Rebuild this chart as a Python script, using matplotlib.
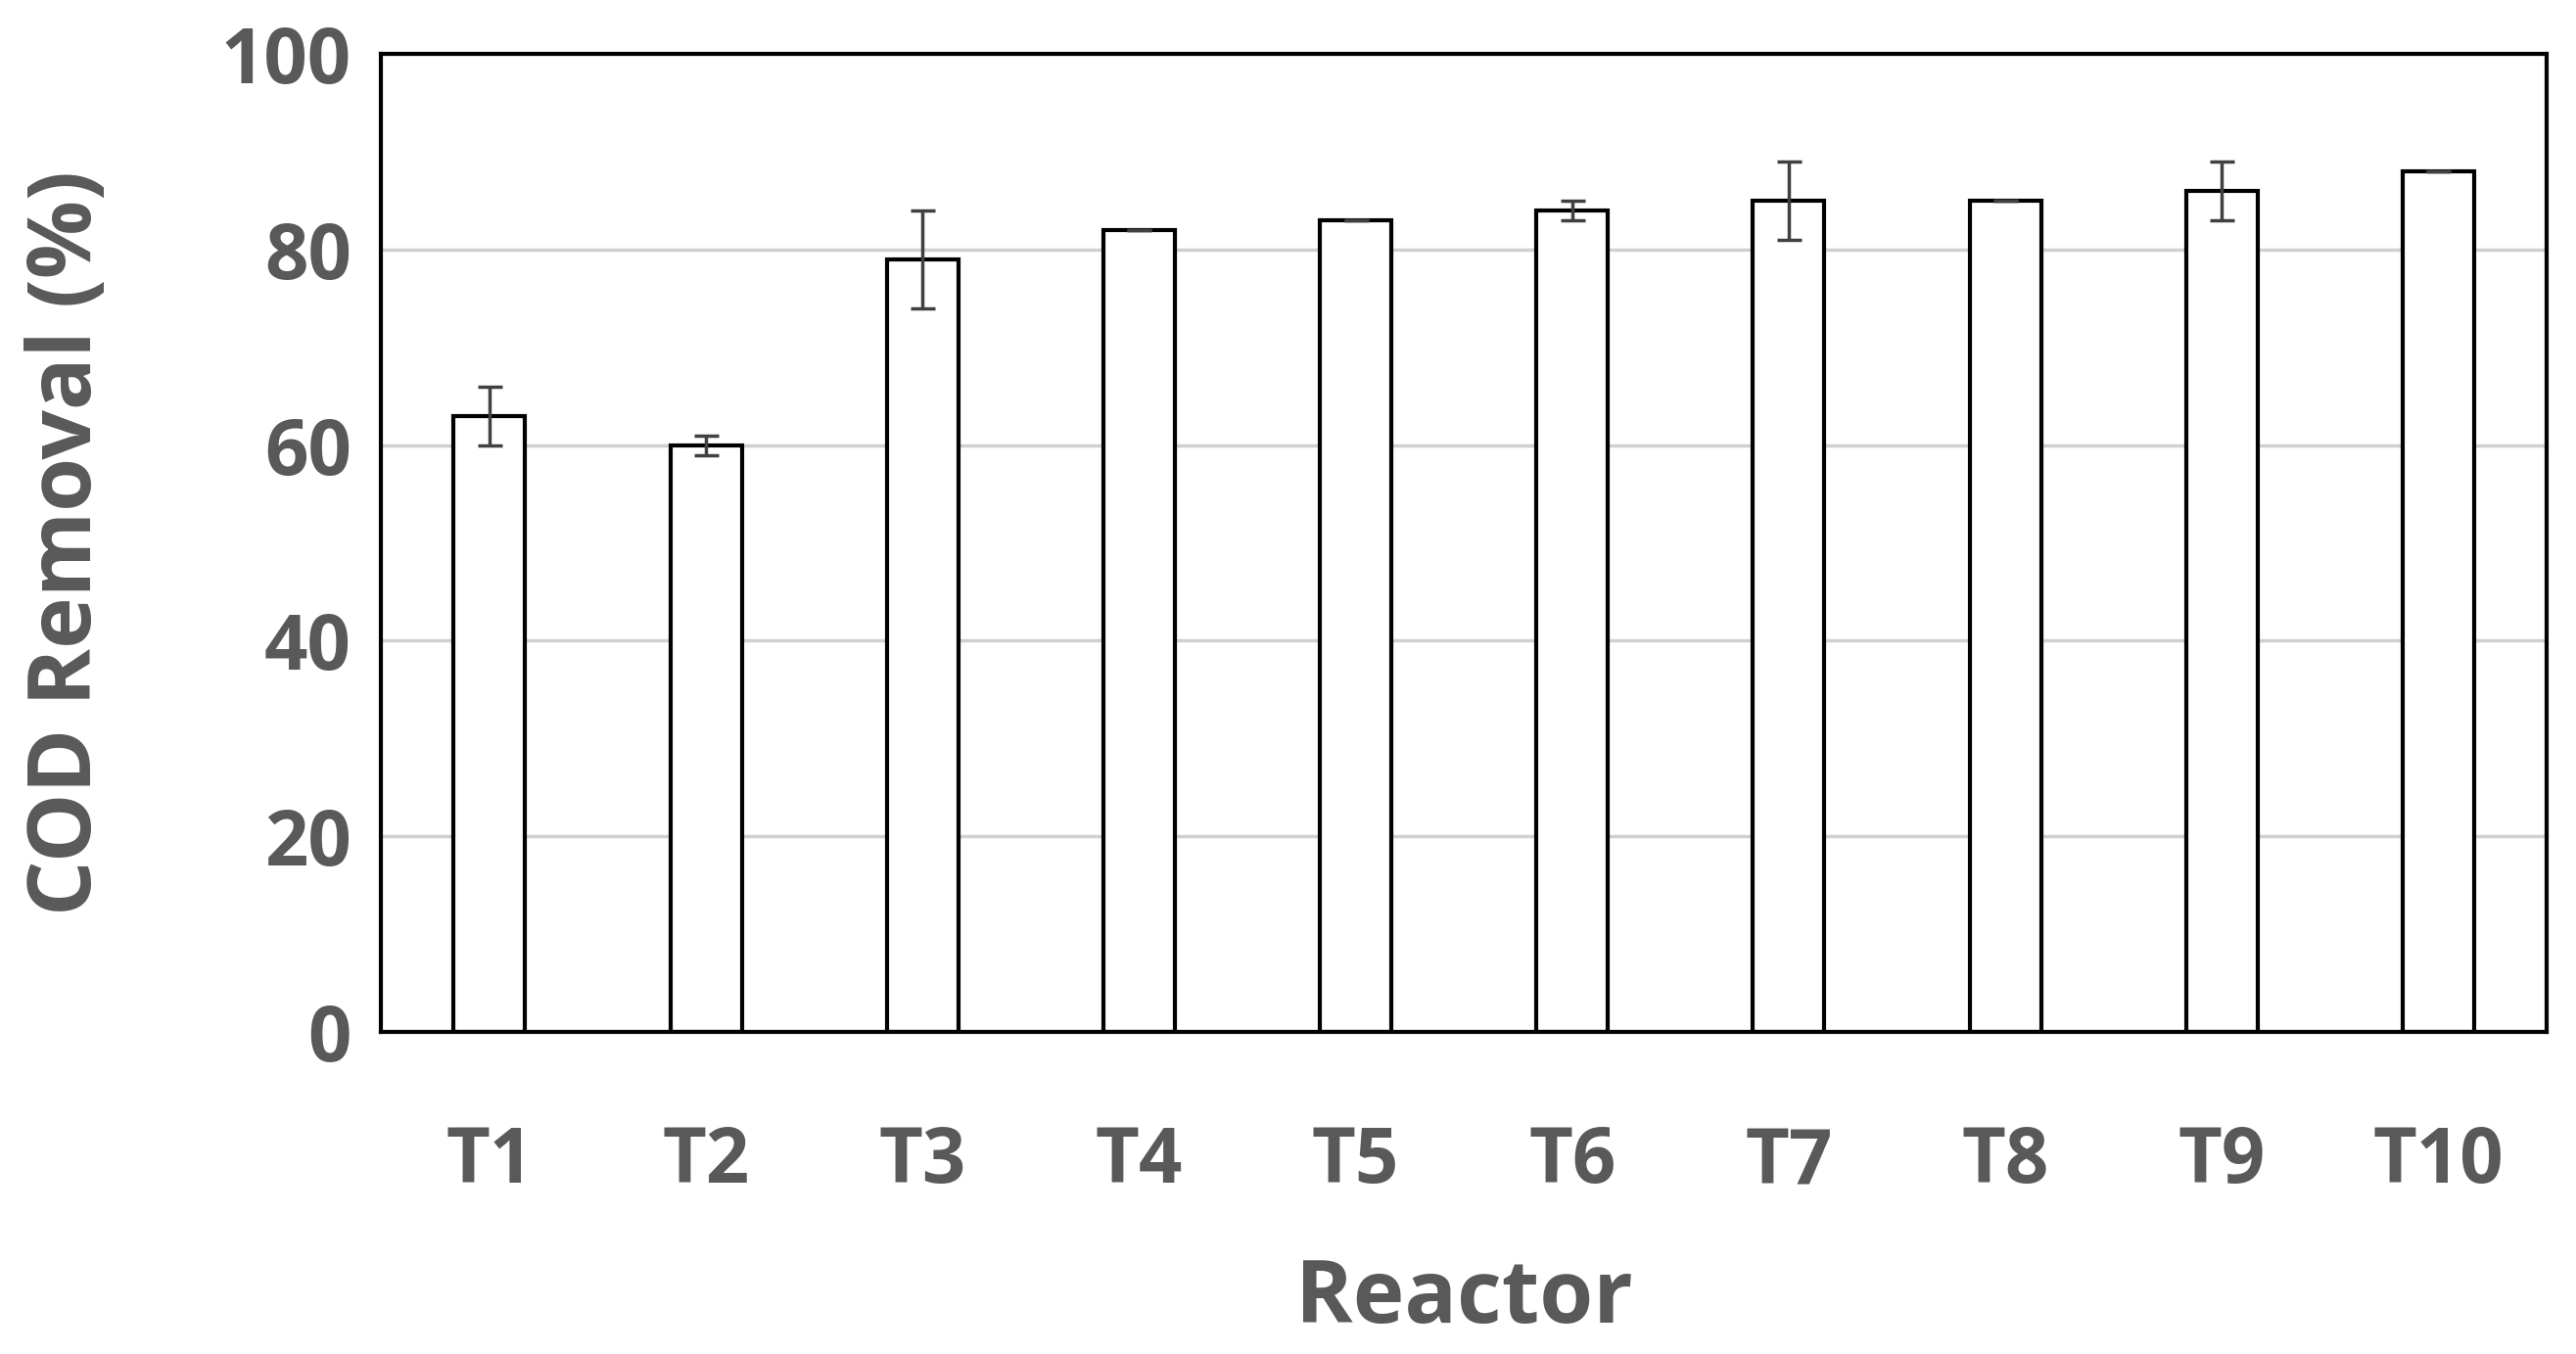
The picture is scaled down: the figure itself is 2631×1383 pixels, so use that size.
import matplotlib
matplotlib.use("Agg")
import matplotlib.pyplot as plt

categories = ["T1", "T2", "T3", "T4", "T5", "T6", "T7", "T8", "T9", "T10"]
values = [63, 60, 79, 82, 83, 84, 85, 85, 86, 88]
errors = [3, 1, 5, 0, 0, 1, 4, 0, 3, 0]
yticks = [0, 20, 40, 60, 80, 100]

plt.rcParams['font.family'] = ['Open Sans', 'DejaVu Sans']
grey = "#595959"
fig = plt.figure(figsize=(26.31, 13.83), dpi=100)
ax = fig.add_axes([0.148, 0.238, 0.8406, 0.722])
x = range(len(categories))
ax.bar(x, values, width=0.33, color="white", edgecolor="black", linewidth=3, zorder=2)
ax.errorbar(x, values, yerr=errors, fmt="none", ecolor="#404040", elinewidth=2.5,
            capsize=9, capthick=2.5, zorder=3)
ax.set_ylim(0, 100)
ax.set_xlim(-0.5, len(categories) - 0.5)
ax.set_yticks(yticks)
ax.set_xticks(list(x))
ax.set_xticklabels(categories)
ax.yaxis.grid(True, color="#d0d0d0", linewidth=2.5, zorder=0)
ax.set_axisbelow(True)
for s in ax.spines.values():
    s.set_linewidth(3)
ax.tick_params(length=0, labelsize=56, colors=grey, pad=22)
ax.tick_params(axis='x', pad=68)
for lab in ax.get_xticklabels() + ax.get_yticklabels():
    lab.set_fontweight("bold")
ax.set_xlabel("Reactor", fontsize=64, fontweight="bold", color=grey, labelpad=40)
ax.set_ylabel("COD Removal (%)", fontsize=64, fontweight="bold", color=grey, labelpad=80)
fig.savefig("out.png", dpi=100)
